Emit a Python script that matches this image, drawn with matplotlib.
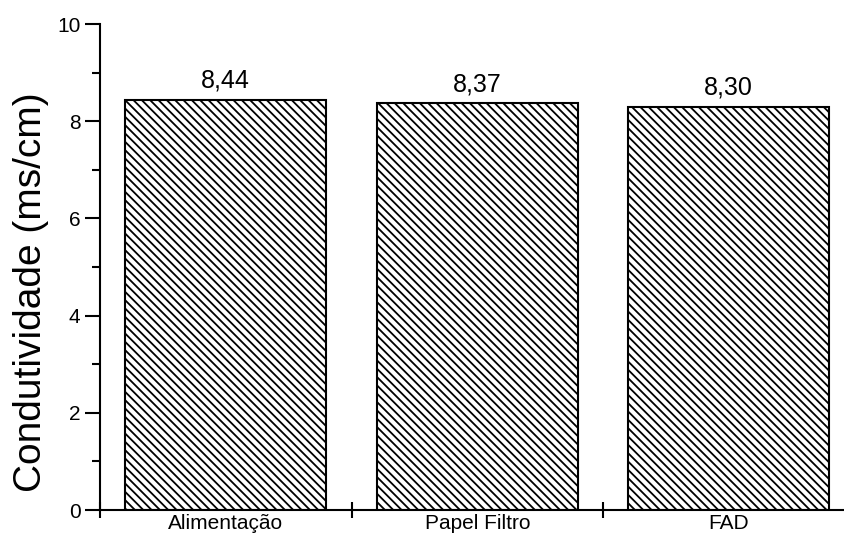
import matplotlib
matplotlib.use('Agg')
import matplotlib.pyplot as plt
from matplotlib.ticker import MultipleLocator, FixedLocator

categorias = ['Alimentação', 'Papel Filtro', 'FAD']
condutividade = [8.44, 8.37, 8.30]
rotulos = ['8,44', '8,37', '8,30']

plt.rcParams['font.family'] = ['Liberation Sans', 'DejaVu Sans']
plt.rcParams['hatch.linewidth'] = 1.3

fig = plt.figure(figsize=(8.44, 5.41), dpi=100)
ax = fig.add_axes([100/844, 1 - 510/541, 1 - 100/844, (510 - 24)/541])

x = list(range(len(categorias)))
bars = ax.bar(x, condutividade, width=0.8, color='white', edgecolor='black',
              linewidth=1.5, hatch='\\' * 4)

for b, txt in zip(bars, rotulos):
    ax.annotate(txt, (b.get_x() + b.get_width() / 2, b.get_height()),
                xytext=(0, 5), textcoords='offset points',
                ha='center', va='bottom', fontsize=18)

ax.set_xlim(-0.5, 2.458)
ax.set_ylim(0, 10)

ax.xaxis.set_major_locator(FixedLocator([-0.5, 0.5, 1.5, 2.5]))
ax.xaxis.set_major_formatter(plt.NullFormatter())
ax.xaxis.set_minor_locator(FixedLocator(x))
ax.set_xticklabels(categorias, minor=True)
ax.tick_params(axis='x', which='major', direction='inout', length=11, width=1.5)
ax.tick_params(axis='x', which='minor', length=0, labelsize=15, pad=3)

ax.yaxis.set_major_locator(MultipleLocator(2))
ax.yaxis.set_minor_locator(MultipleLocator(1))
ax.tick_params(axis='y', which='major', direction='out', length=11, width=1.5,
               labelsize=15, pad=3)
ax.tick_params(axis='y', which='minor', direction='out', length=6, width=1.5)

ax.spines['top'].set_visible(False)
ax.spines['right'].set_visible(False)
ax.spines['left'].set_linewidth(1.5)
ax.spines['bottom'].set_linewidth(1.5)

ax.set_ylabel('Condutividade (ms/cm)', fontsize=28)
ax.yaxis.set_label_coords(-0.068, 0.449)

fig.savefig('out.png', dpi=100)
